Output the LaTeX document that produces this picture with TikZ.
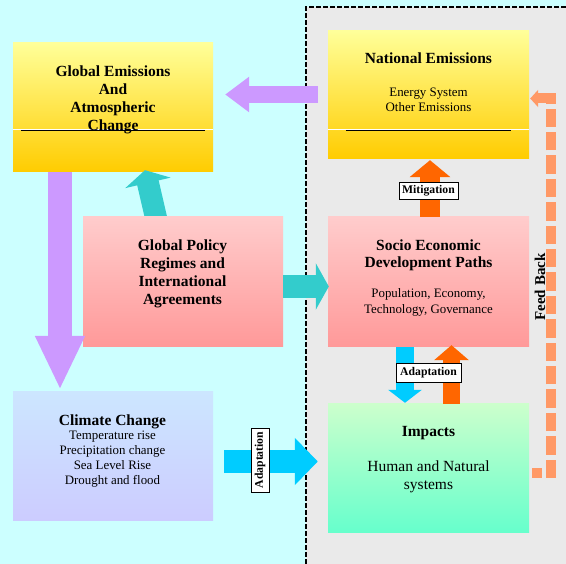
\documentclass[tikz,border=0pt]{standalone}
\usepackage{fontspec}
\setmainfont{Liberation Serif}
\usetikzlibrary{arrows.meta}

% palette
\definecolor{skyBg}{HTML}{CCFFFF}
\definecolor{panelBg}{HTML}{EAEAEA}
\definecolor{yelT}{HTML}{FFFF99}
\definecolor{yelB}{HTML}{FFCC00}
\definecolor{pinkT}{HTML}{FFCCCC}
\definecolor{pinkB}{HTML}{FF9999}
\definecolor{bluT}{HTML}{CCE6FF}
\definecolor{bluB}{HTML}{CCCCFF}
\definecolor{grnT}{HTML}{CCFFCC}
\definecolor{grnB}{HTML}{66FFCC}
\definecolor{lilac}{HTML}{CC99FF}
\definecolor{tealA}{HTML}{33CCCC}
\definecolor{orng}{HTML}{FF6600}
\definecolor{cyanA}{HTML}{00CCFF}
\definecolor{peach}{HTML}{FF9966}

\newcommand{\ttlfont}{\fontsize{15.5}{17.8}\selectfont\bfseries}
\newcommand{\bodyfont}{\fontsize{12.9}{15}\selectfont}
\newcommand{\tagfont}{\fontsize{11.7}{13}\selectfont\bfseries}

% multi-line texts are placed by the baseline of their last line
\tikzset{
  panel/.style 2 args={top color=#1, bottom color=#2, draw=none, inner sep=0pt,
    minimum width=200pt, minimum height=129pt},
  ttl/.style={anchor=base, align=center, inner sep=0pt, font=\ttlfont},
  body/.style={anchor=base, align=center, inner sep=0pt, font=\bodyfont},
  tagbox/.style={draw, fill=white, line width=0.8pt, inner sep=0pt,
    font=\tagfont},
  fat/.style n args={4}{draw=#1, line width=#2,
    -{Triangle[length=#3, width=#4]}},
  fbline/.style={draw=peach, line width=10pt},
}

\begin{document}
\begin{tikzpicture}[x=1pt, y=-1pt]
  \useasboundingbox (0,0) rectangle (566,564);
  \fill[skyBg] (0,0) rectangle (566,564);
  % national panel background with dashed frame
  \fill[panelBg] (306,7) rectangle (566,564);
  \draw[line width=1.6pt, dash pattern=on 4.5pt off 2.5pt] (306,564) -- (306,7) -- (566,7);

  % boxes
  \node[panel={yelT}{yelB}] (ge) at (113,107.5) {};
  \node[panel={yelT}{yelB}, minimum width=201pt, minimum height=128pt] (ne) at (428.5,95) {};
  \node[panel={pinkT}{pinkB}, minimum width=201pt, minimum height=130pt] (se) at (428.5,282) {};
  \node[panel={bluT}{bluB}] (cc) at (113,456.5) {};
  \node[panel={grnT}{grnB}, minimum width=201pt] (im) at (428.5,468.5) {};

  % rules inside the yellow boxes
  \draw[white, line width=0.8pt] (ge.west |- 0,129) -- (ge.east |- 0,129);
  \draw[line width=1pt] ([xshift=8pt]ge.west |- 0,130.5) -- ([xshift=-8pt]ge.east |- 0,130.5);
  \draw[white, line width=0.8pt] (ne.west |- 0,129.3) -- (ne.east |- 0,129.3);
  \draw[line width=1pt] ([xshift=18pt]ne.west |- 0,130.5) -- ([xshift=-18pt]ne.east |- 0,130.5);

  % the policy arrow starts beneath its box
  \coordinate (gpTop) at (183,217);
  \draw[fat={tealA}{22pt}{13pt}{46pt}] ([xshift=-26pt,yshift=-5pt]gpTop) -- ([xshift=32pt,yshift=2pt]ge.south);
  \node[panel={pinkT}{pinkB}, minimum height=130pt] (gp) at (183,282) {};

  % block arrows
  \draw[fat={lilac}{17pt}{24pt}{34pt}] ([xshift=-10pt,yshift=0.5pt]ne.west) -- ([xshift=12pt,yshift=13pt]ge.east);
  \draw[fat={lilac}{24pt}{54pt}{46pt}] ([xshift=-53pt]ge.south) -- ([xshift=-53pt,yshift=2pt]cc.north);
  \draw[fat={tealA}{23pt}{13pt}{46pt}] ([yshift=-4.5pt]gp.east) -- ([yshift=-4.5pt,xshift=1pt]se.west);
  \draw[fat={orng}{20pt}{17pt}{40pt}] ([xshift=1.5pt]se.north) -- ([xshift=1.5pt,yshift=-1pt]ne.south);
  \draw[fat={cyanA}{18pt}{13pt}{33pt}] ([xshift=-23.5pt]se.south) -- ([xshift=-23.5pt,yshift=1pt]im.north);
  \draw[fat={orng}{17pt}{15pt}{34pt}] ([xshift=23pt]im.north) -- ([xshift=23pt,yshift=2pt]se.south);
  \draw[fat={cyanA}{23pt}{23pt}{46pt}] ([xshift=11pt,yshift=-5pt]cc.east) -- ([xshift=-10pt,yshift=7pt]im.west);

  % feedback loop: a short stub out of the impacts box, then the dashed return
  \coordinate (fbLow) at (551,478);
  \coordinate (fbHigh) at (551,98.5);
  \draw[fbline] ([xshift=3pt,yshift=-4.5pt]im.east) -- ([xshift=13pt,yshift=-4.5pt]im.east);
  \draw[fbline, dash pattern=on 18.4pt off 5pt,
        -{Triangle[length=8pt, width=17pt]}]
    (fbLow) -- (fbHigh) -- ([xshift=1pt,yshift=-3.5pt]ne.east);
  \node[rotate=90, inner sep=0pt, font=\fontsize{15}{17}\selectfont\bfseries] (fbtxt) at (540,287) {Feed Back};

  % labels on arrows
  \node[tagbox, minimum width=59pt, minimum height=17pt] (mit) at (428.5,191) {Mitigation};
  \node[tagbox, minimum width=65pt, minimum height=19pt] (adpA) at (428.5,372.5) {Adaptation};
  \node[tagbox, rotate=90, minimum width=64pt, minimum height=18pt] (adpB) at (260,460) {Adaptation};

  % box texts
  \node[ttl] (geT) at (113,130.4) {Global Emissions\\And\\Atmospheric\\Change};
  \node[ttl] (neT) at (428.5,64) {National Emissions};
  \node[body] (neB) at (428.5,112) {Energy System\\Other Emissions};
  \node[ttl] (gpT) at (182.5,304.4) {Global Policy\\Regimes and\\International\\Agreements};
  \node[ttl] (seT) at (428.5,268) {Socio Economic\\Development Paths};
  \node[body, font=\fontsize{12.9}{16}\selectfont] (seB) at (428.5,314) {Population, Economy,\\Technology, Governance};
  \node[ttl] (ccT) at (112.5,426) {Climate Change};
  \node[body, font=\fontsize{12.9}{14.8}\selectfont] (ccB) at (112.5,484.4) {Temperature rise\\Precipitation change\\Sea Level Rise\\Drought and flood};
  \node[ttl] (imT) at (428.5,437) {Impacts};
  \node[body, font=\fontsize{15.5}{18}\selectfont] (imB) at (428.5,490) {Human and Natural\\systems};
\end{tikzpicture}
\end{document}
